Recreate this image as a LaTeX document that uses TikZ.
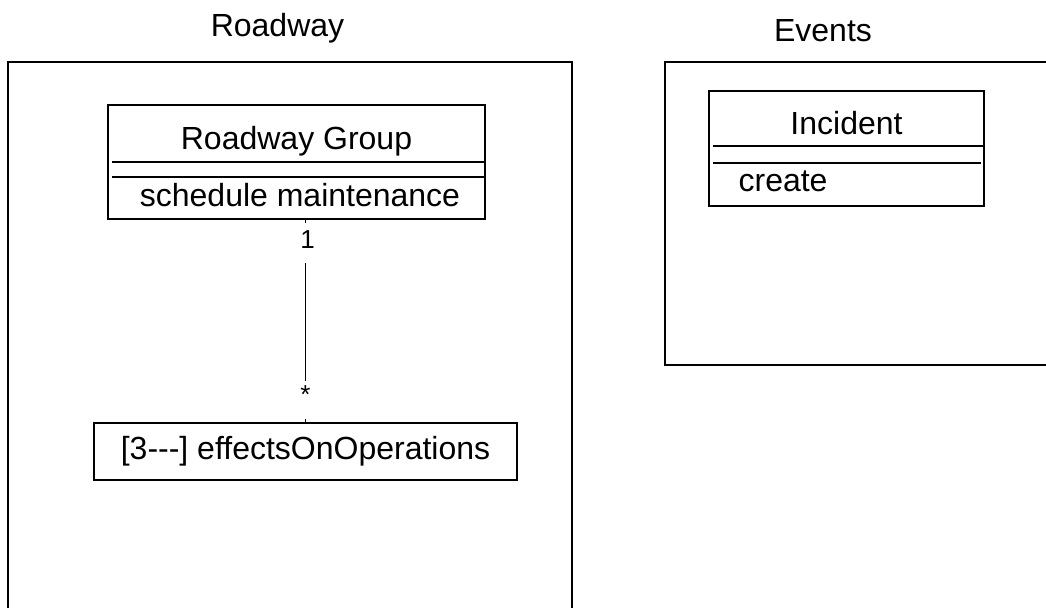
\documentclass[tikz,border=0pt]{standalone}
\usepackage{fontspec}
\setmainfont{Liberation Sans}[Ligatures=TeXOff]
\usepackage{tikz}
\usetikzlibrary{positioning}

\tikzset{
    classbox/.style={draw, inner sep=0pt},
    multlabel/.style={fill=white, inner sep=2pt, font=\fontsize{13}{15}\selectfont},
}

\begin{document}
\begin{tikzpicture}[x=0.5pt, y=-0.5pt, line width=0.6pt, font=\fontsize{16}{19}\selectfont]
    \useasboundingbox (0,0) rectangle (1046,608);
    \clip (0,0) rectangle (1046,608);

    % packages
    \draw (8,62) rectangle (572,640);
    \draw (665,62) rectangle (1080,365);
    \node[anchor=base] (roadwaytitle) at (277.5,37) {Roadway};
    \node[anchor=base] (eventstitle) at (823,42) {Events};

    % Roadway Group class
    \node[classbox, minimum width=188.5pt, minimum height=57pt] (grp) at (296.5,162) {};
    \node[anchor=base] (grpname) at (296.5,150) {Roadway Group};
    \draw (112,162) -- (485,162);
    \draw (112,177) -- (485,177);
    \node[anchor=base] (grpop) at (300,207) {schedule maintenance};

    \node[classbox, minimum width=211.5pt, minimum height=28.5pt] (eff) at (305.5,451.5) {[3---] effectsOnOperations};

    % Incident class
    \node[classbox, minimum width=137.5pt, minimum height=57.5pt] (inc) at (846.5,148.5) {};
    \node[anchor=base] (incname) at (846.5,135) {Incident};
    \draw (713,146) -- (984,146);
    \draw (713,163) -- (981,163);
    \node[anchor=base west, inner sep=0pt] (incop) at (738,192) {create};

    \draw (grp.south -| eff.north) --
        node[multlabel, pos=0.113, xshift=1pt, text height=11pt, text depth=5pt] (multone) {1}
        node[multlabel, pos=0.892, text height=8.8pt, text depth=6.2pt] (multmany) {*}
        (eff.north);
\end{tikzpicture}
\end{document}
